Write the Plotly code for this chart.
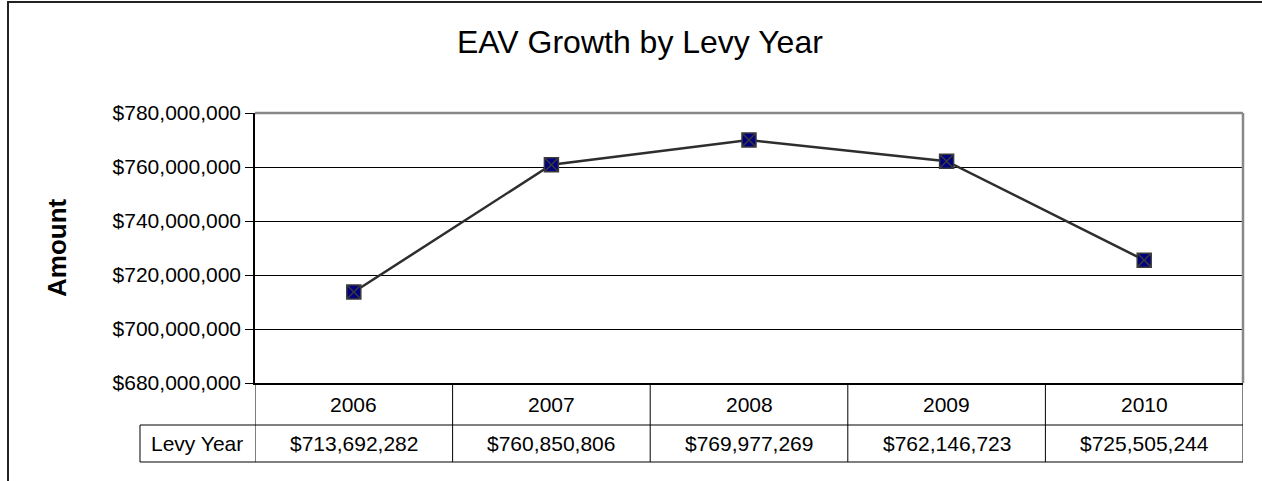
import plotly.graph_objects as go

# Equalized assessed valuation by levy year
years = ["2006", "2007", "2008", "2009", "2010"]
eav = [713692282, 760850806, 769977269, 762146723, 725505244]
row_label = "Levy Year"
chart_title = "EAV Growth by Levy Year"
y_title = "Amount"
y_ticks = [680000000, 700000000, 720000000, 740000000, 760000000, 780000000]

FONT = "Liberation Sans, Arial, sans-serif"
TXT = 21
xs = list(range(len(years)))

fig = go.Figure()
fig.add_trace(go.Scatter(
    x=xs, y=eav, mode="lines+markers",
    line=dict(color="#2e2e2e", width=2.5),
    marker=dict(symbol="square-x", size=14, color="#000080",
                line=dict(color="#3a3a3a", width=1.5)),
    showlegend=False, hoverinfo="skip",
))

shapes = []
annotations = []


def cell_text(x, y, text, xref):
    return dict(x=x, y=y, xref=xref, yref="paper", text=text, showarrow=False,
                xanchor="center", yanchor="middle",
                font=dict(size=TXT, color="black", family=FONT))


# Data table under the plot: row of years, row of values
row1_y, sep_y, row2_y, bottom_y = -0.0778, -0.1556, -0.2259, -0.2926
label_left = -0.1164
for i, (yr, v) in enumerate(zip(years, eav)):
    annotations.append(cell_text(i, row1_y, yr, "x"))
    annotations.append(cell_text(i, row2_y, f"${v:,.0f}", "x"))
for b in [i - 0.5 for i in range(len(years) + 1)]:
    shapes.append(dict(type="line", xref="x", yref="paper", x0=b, x1=b, y0=0, y1=bottom_y,
                       line=dict(color="black", width=1)))
for yy in (sep_y, bottom_y):
    shapes.append(dict(type="line", xref="paper", yref="paper", x0=label_left, x1=1,
                       y0=yy, y1=yy, line=dict(color="black", width=1)))
shapes.append(dict(type="line", xref="paper", yref="paper", x0=label_left, x1=label_left,
                   y0=sep_y, y1=bottom_y, line=dict(color="black", width=1)))
annotations.append(cell_text(label_left / 2, row2_y, row_label, "paper"))

# Gray plot-area border on top and right
shapes.append(dict(type="line", xref="paper", yref="paper", x0=0, x1=1, y0=1, y1=1,
                   line=dict(color="#888888", width=2.5)))
shapes.append(dict(type="line", xref="paper", yref="paper", x0=1, x1=1, y0=0, y1=1,
                   line=dict(color="#888888", width=2.5)))

# Outer chart frame
shapes.append(dict(type="path", xref="paper", yref="paper",
                   path="M -0.25,-0.5 L -0.25,1.4111 L 1.05,1.4111",
                   line=dict(color="#222222", width=2)))

annotations.append(dict(x=0.3897, y=1.263, xref="paper", yref="paper", text=chart_title,
                        showarrow=False, xanchor="center", yanchor="middle",
                        font=dict(size=32, color="black", family=FONT)))
annotations.append(dict(x=-0.2004, y=0.5, xref="paper", yref="paper", text=f"<b>{y_title}</b>",
                        showarrow=False, textangle=-90, xanchor="center", yanchor="middle",
                        font=dict(size=26, color="black", family=FONT)))

fig.update_layout(
    width=1262, height=481,
    margin=dict(l=255, r=19, t=113, b=98, pad=0),
    paper_bgcolor="white", plot_bgcolor="white",
    shapes=shapes, annotations=annotations,
    xaxis=dict(range=[-0.5, len(years) - 0.5], showticklabels=False, ticks="",
               showgrid=False, zeroline=False, showline=True, linecolor="black",
               linewidth=1.5, fixedrange=True),
    yaxis=dict(range=[680000000, 780000000], tickvals=y_ticks,
               ticktext=[f"${t:,.0f}" for t in y_ticks],
               ticks="outside", ticklen=8, tickcolor="black", tickwidth=1,
               showgrid=True, gridcolor="black", gridwidth=1, zeroline=False,
               showline=True, linecolor="black", linewidth=1.5,
               tickfont=dict(size=TXT, color="black", family=FONT), fixedrange=True),
)

fig.write_html("out.html")
